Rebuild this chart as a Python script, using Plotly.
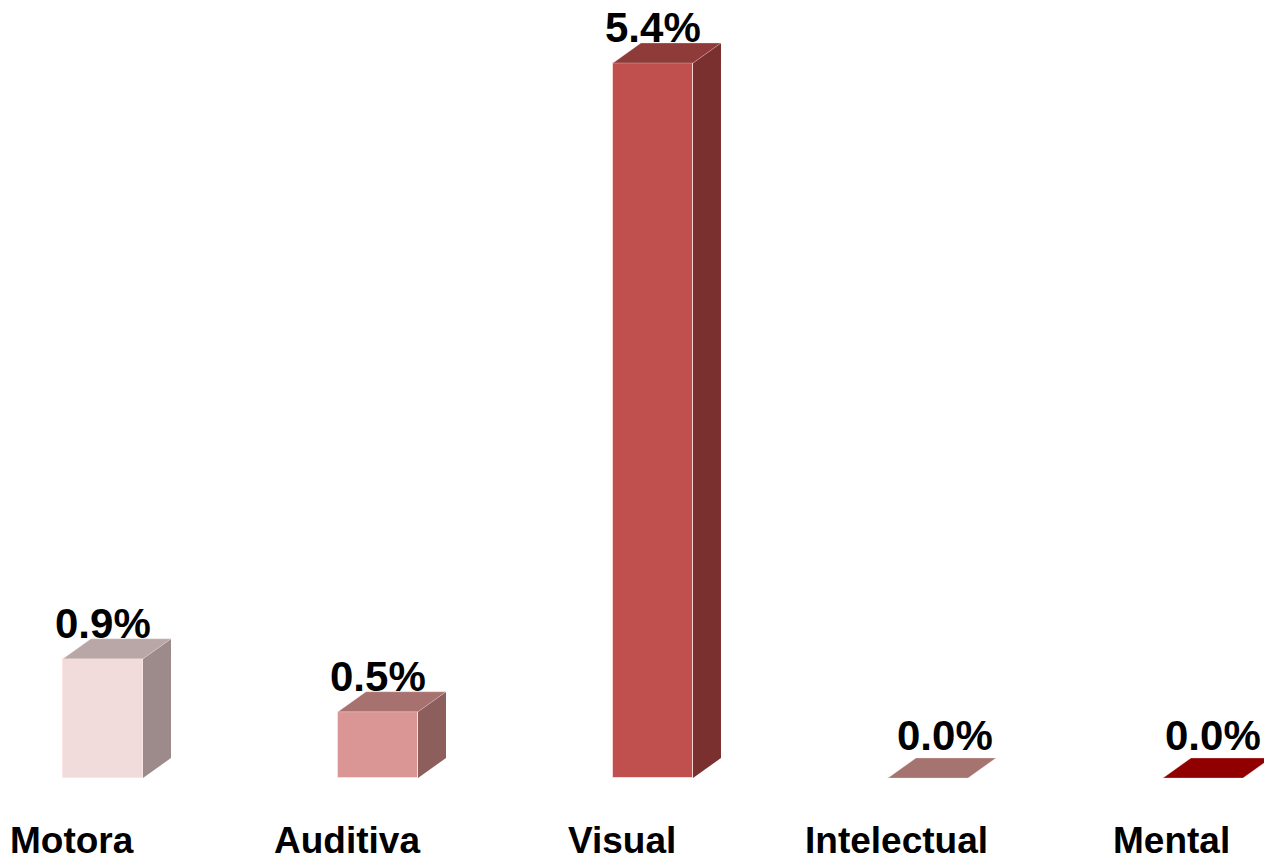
import plotly.graph_objects as go

# ---- data ----
categories = ["Motora", "Auditiva", "Visual", "Intelectual", "Mental"]
values = [0.9, 0.5, 5.4, 0.0, 0.0]
value_labels = ["0.9%", "0.5%", "5.4%", "0.0%", "0.0%"]

# ---- styles ----
front_colors = ["#F2DCDB", "#D99694", "#C0504D", "#C69A97", "#B00000"]
side_colors = ["#9C8B8A", "#8C5E5C", "#7B3030", "#8A5E5B", "#700000"]
top_colors = ["#B9A6A6", "#A6716F", "#8E3B39", "#A67470", "#900000"]

W = 0.2909   # front face width (x units)
DX = 0.1018  # depth offset x
DY = 0.1511  # depth offset y
FONT = "Arial, 'Liberation Sans', sans-serif"
X_RANGE = [-0.34545, 4.22182]
Y_RANGE = [-0.61178, 5.81571]

xs = list(range(len(categories)))
fig = go.Figure()

for i, (x, v) in enumerate(zip(xs, values)):
    l, r = x - W / 2, x + W / 2
    if v > 0:
        fig.add_trace(go.Scatter(
            x=[r, r + DX, r + DX, r, r], y=[0, DY, v + DY, v, 0],
            fill="toself", fillcolor=side_colors[i], mode="lines",
            line=dict(width=0), hoverinfo="skip", showlegend=False))
    fig.add_trace(go.Scatter(
        x=[l, r, r + DX, l + DX, l], y=[v, v, v + DY, v + DY, v],
        fill="toself", fillcolor=top_colors[i], mode="lines",
        line=dict(width=0.6, color="rgba(255,235,235,0.5)"), hoverinfo="skip", showlegend=False))

fig.add_trace(go.Bar(
    x=xs, y=values, width=W, base=0,
    marker=dict(color=front_colors, line=dict(width=1, color="rgba(255,225,225,0.8)")),
    hoverinfo="skip", showlegend=False))

label_half_w = 0.353 / 2
annotations = []
for i, (x, v) in enumerate(zip(xs, values)):
    shift = 0 if v > 0 else DX * 0.6
    lift = -0.075 if v > 0 else -0.025
    cx = min(x + shift, X_RANGE[1] - label_half_w - 0.01)
    annotations.append(dict(
        x=cx, y=v + DY + lift, xref="x", yref="y",
        text=value_labels[i], showarrow=False, yanchor="bottom", xanchor="center",
        font=dict(family=FONT, size=42, color="black", weight="bold")))
    annotations.append(dict(
        x=x - 0.113, y=-0.475, xref="x", yref="y",
        text=categories[i], showarrow=False, yanchor="middle", xanchor="center",
        font=dict(family=FONT, size=37, color="black", weight="bold")))

fig.update_layout(
    width=1256, height=851,
    margin=dict(l=0, r=0, t=0, b=0),
    paper_bgcolor="white", plot_bgcolor="white",
    xaxis=dict(range=X_RANGE, visible=False, fixedrange=True),
    yaxis=dict(range=Y_RANGE, visible=False, fixedrange=True),
    annotations=annotations,
    bargap=0,
)

fig.write_html("out.html")
